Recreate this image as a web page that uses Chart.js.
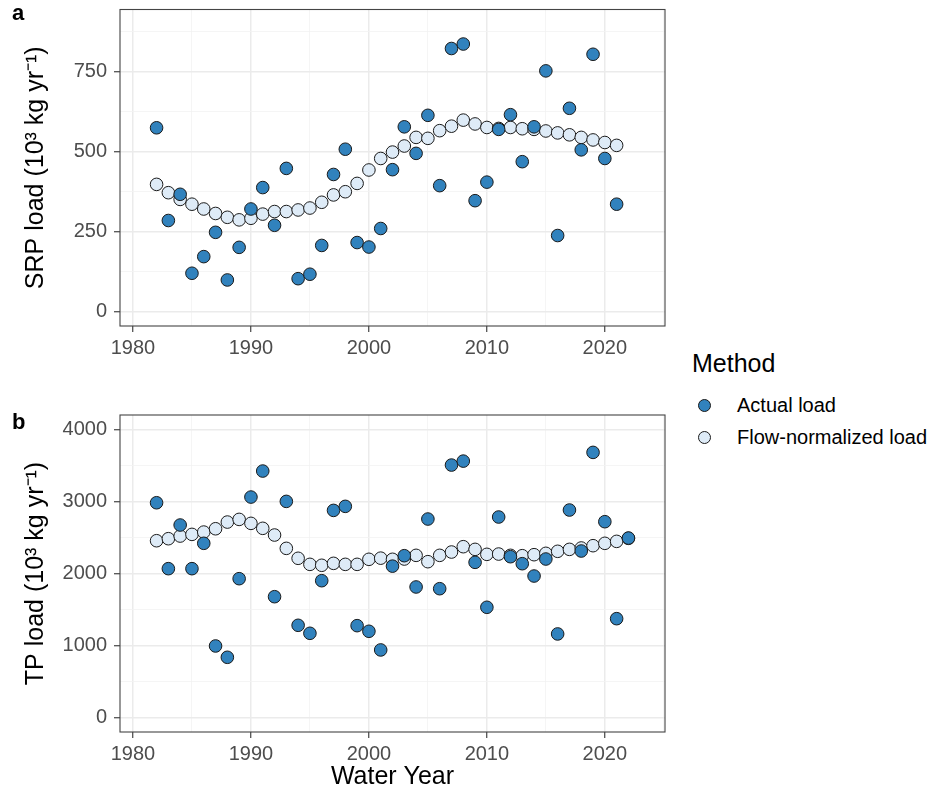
<!DOCTYPE html>
<html>
<head>
<meta charset="utf-8">
<script src="https://cdn.jsdelivr.net/npm/chart.js@4.4.1/dist/chart.umd.min.js"></script>
<style>
  body { margin: 0; background: #fff; width: 940px; height: 792px; position: relative; overflow: hidden;
         font-family: 'Liberation Sans', Arial, sans-serif; }
  .wrap { position: absolute; left: 0; }
  #wrapA { top: -10px; }
  #wrapB { top: 395px; }
  .tag { position: absolute; left: 12px; font-weight: bold; font-size: 22px; color: #000; line-height: 1; z-index: 2; }
  #legend { position: absolute; left: 692px; top: 348px; color: #000; }
  #legend .title { font-size: 25px; line-height: 30px; margin-bottom: 11px; }
  #legend .item { position: relative; height: 32px; line-height: 32px; font-size: 20px; padding-left: 45px; }
  #legend .dot { position: absolute; left: 6px; top: 10px; width: 11px; height: 11px; border-radius: 50%;
                 border: 1px solid #1a1a1a; }
</style>
</head>
<body>
<div class="wrap" id="wrapA"><canvas id="chartA" width="690" height="382"></canvas></div>
<div class="wrap" id="wrapB"><canvas id="chartB" width="690" height="397"></canvas></div>
<div class="tag" style="top:2px">a</div>
<div class="tag" style="top:411px">b</div>
<div id="legend">
  <div class="title">Method</div>
  <div class="item"><span class="dot" style="background:#3182bd"></span>Actual load</div>
  <div class="item"><span class="dot" style="background:#deebf7"></span>Flow-normalized load</div>
</div>

<script>
// data (10^3 kg / yr)
const yearsSRP = [1982, 1983, 1984, 1985, 1986, 1987, 1988, 1989, 1990, 1991,
                  1992, 1993, 1994, 1995, 1996, 1997, 1998, 1999, 2000, 2001,
                  2002, 2003, 2004, 2005, 2006, 2007, 2008, 2009, 2010, 2011,
                  2012, 2013, 2014, 2015, 2016, 2017, 2018, 2019, 2020, 2021];
const srpActual = [575, 285, 367, 120, 172, 248, 99, 201, 321, 388,
                   270, 448, 103, 117, 207, 429, 508, 216, 202, 260,
                   444, 578, 495, 614, 394, 823, 837, 347, 405, 570,
                   616, 469, 578, 753, 238, 636, 506, 805, 479, 336];
const srpFlow = [398, 372, 351, 336, 321, 307, 295, 287, 292, 305,
                 313, 313, 318, 324, 342, 365, 375, 401, 443, 479,
                 499, 518, 545, 542, 566, 580, 599, 587, 576, 573,
                 576, 572, 570, 565, 559, 553, 545, 537, 529, 520];

const yearsTP = [1982, 1983, 1984, 1985, 1986, 1987, 1988, 1989, 1990, 1991,
                 1992, 1993, 1994, 1995, 1996, 1997, 1998, 1999, 2000, 2001,
                 2002, 2003, 2004, 2005, 2006, 2007, 2008, 2009, 2010, 2011,
                 2012, 2013, 2014, 2015, 2016, 2017, 2018, 2019, 2020, 2021, 2022];
const tpActual = [2982, 2067, 2673, 2067, 2419, 994, 837, 1928, 3061, 3422,
                  1678, 3001, 1281, 1170, 1900, 2876, 2932, 1276, 1198, 939,
                  2102, 2247, 1813, 2756, 1789, 3505, 3560, 2155, 1531, 2784,
                  2233, 2136, 1965, 2201, 1161, 2881, 2312, 3681, 2719, 1373, 2492];
const tpFlow = [2455, 2483, 2520, 2543, 2575, 2621, 2714, 2751, 2696, 2627,
                2534, 2349, 2211, 2127, 2114, 2141, 2127, 2127, 2197, 2213,
                2197, 2201, 2252, 2164, 2252, 2298, 2372, 2335, 2266, 2270,
                2252, 2247, 2261, 2280, 2308, 2335, 2354, 2386, 2419, 2446, 2488];

// tick labels / breaks
const xMajor = [1980, 1990, 2000, 2010, 2020];
const xMinor = [1985, 1995, 2005, 2015, 2025];
const srpMajor = [0, 250, 500, 750];
const srpMinor = [125, 375, 625, 875];
const tpMajor = [0, 1000, 2000, 3000, 4000];
const tpMinor = [500, 1500, 2500, 3500];

Chart.defaults.font.family = "'Liberation Sans', Arial, sans-serif";

const borderBox = {
  id: 'borderBox',
  afterDraw(chart) {
    const {ctx, chartArea: a} = chart;
    ctx.save();
    ctx.strokeStyle = '#444444';
    ctx.lineWidth = 1.1;
    ctx.strokeRect(a.left, a.top, a.right - a.left, a.bottom - a.top);
    ctx.restore();
  }
};

function toPoints(xs, ys) {
  return xs.map((x, i) => ({x: x, y: ys[i]}));
}

function gridOpts(major) {
  return {
    color: c => major.includes(c.tick.value) ? '#ebebeb' : '#f3f3f3',
    lineWidth: c => major.includes(c.tick.value) ? 1.5 : 0.8,
    tickColor: c => major.includes(c.tick.value) ? '#333333' : 'rgba(0,0,0,0)',
    tickWidth: 1.1,
    tickLength: 6,
    drawTicks: true
  };
}

function makePanel(id, years, actual, flow, yMin, yMax, yMajor, yMinor, yTitle, plotTop, plotBottom, xTitle) {
  const cv = document.getElementById(id);
  const H = cv.height;
  return new Chart(cv, {
    type: 'scatter',
    data: {
      datasets: [
        {
          label: 'Actual load',
          data: toPoints(years, actual),
          backgroundColor: '#3182bd',
          borderColor: '#1a1a1a',
          borderWidth: 1,
          pointRadius: 6.3,
          pointHoverRadius: 6.3
        },
        {
          label: 'Flow-normalized load',
          data: toPoints(years, flow),
          backgroundColor: '#deebf7',
          borderColor: '#1a1a1a',
          borderWidth: 1,
          pointRadius: 6.3,
          pointHoverRadius: 6.3
        }
      ]
    },
    options: {
      responsive: false,
      animation: false,
      layout: { autoPadding: false, padding: { top: plotTop, right: 25, bottom: 0, left: 0 } },
      plugins: { legend: { display: false }, tooltip: { enabled: false } },
      scales: {
        x: {
          type: 'linear',
          min: 1978.9,
          max: 2025.1,
          afterBuildTicks: s => { s.ticks = xMajor.concat(xMinor).sort((a, b) => a - b).map(v => ({value: v})); },
          afterFit: s => { s.height = H - plotBottom; },
          border: { display: false },
          grid: gridOpts(xMajor),
          ticks: {
            autoSkip: false,
            maxRotation: 0,
            padding: 4,
            color: '#4d4d4d',
            font: { size: 20 },
            callback: v => xMajor.includes(v) ? String(v) : ''
          },
          title: {
            display: !!xTitle,
            text: xTitle || '',
            color: '#000',
            font: { size: 25 },
            padding: { top: 0, bottom: 0 }
          }
        },
        y: {
          min: yMin,
          max: yMax,
          afterBuildTicks: s => { s.ticks = yMajor.concat(yMinor).sort((a, b) => a - b).map(v => ({value: v})); },
          afterFit: s => { s.width = 120; },
          border: { display: false },
          grid: gridOpts(yMajor),
          ticks: {
            autoSkip: false,
            padding: 7,
            color: '#4d4d4d',
            font: { size: 20 },
            callback: v => yMajor.includes(v) ? String(v) : ''
          },
          title: {
            display: true,
            text: yTitle,
            color: '#000',
            font: { size: 25 },
            padding: { top: 21, bottom: 0 }
          }
        }
      }
    },
    plugins: [borderBox]
  });
}

// panel a canvas sits 10px above the page top, so plot top 19.5 -> page 9.5
makePanel('chartA', yearsSRP, srpActual, srpFlow, -45, 945, srpMajor, srpMinor,
          'SRP load (10³ kg yr⁻¹)', 19.5, 336, null);
makePanel('chartB', yearsTP, tpActual, tpFlow, -200, 4200, tpMajor, tpMinor,
          'TP load (10³ kg yr⁻¹)', 20, 337, 'Water Year');
</script>
</body>
</html>
